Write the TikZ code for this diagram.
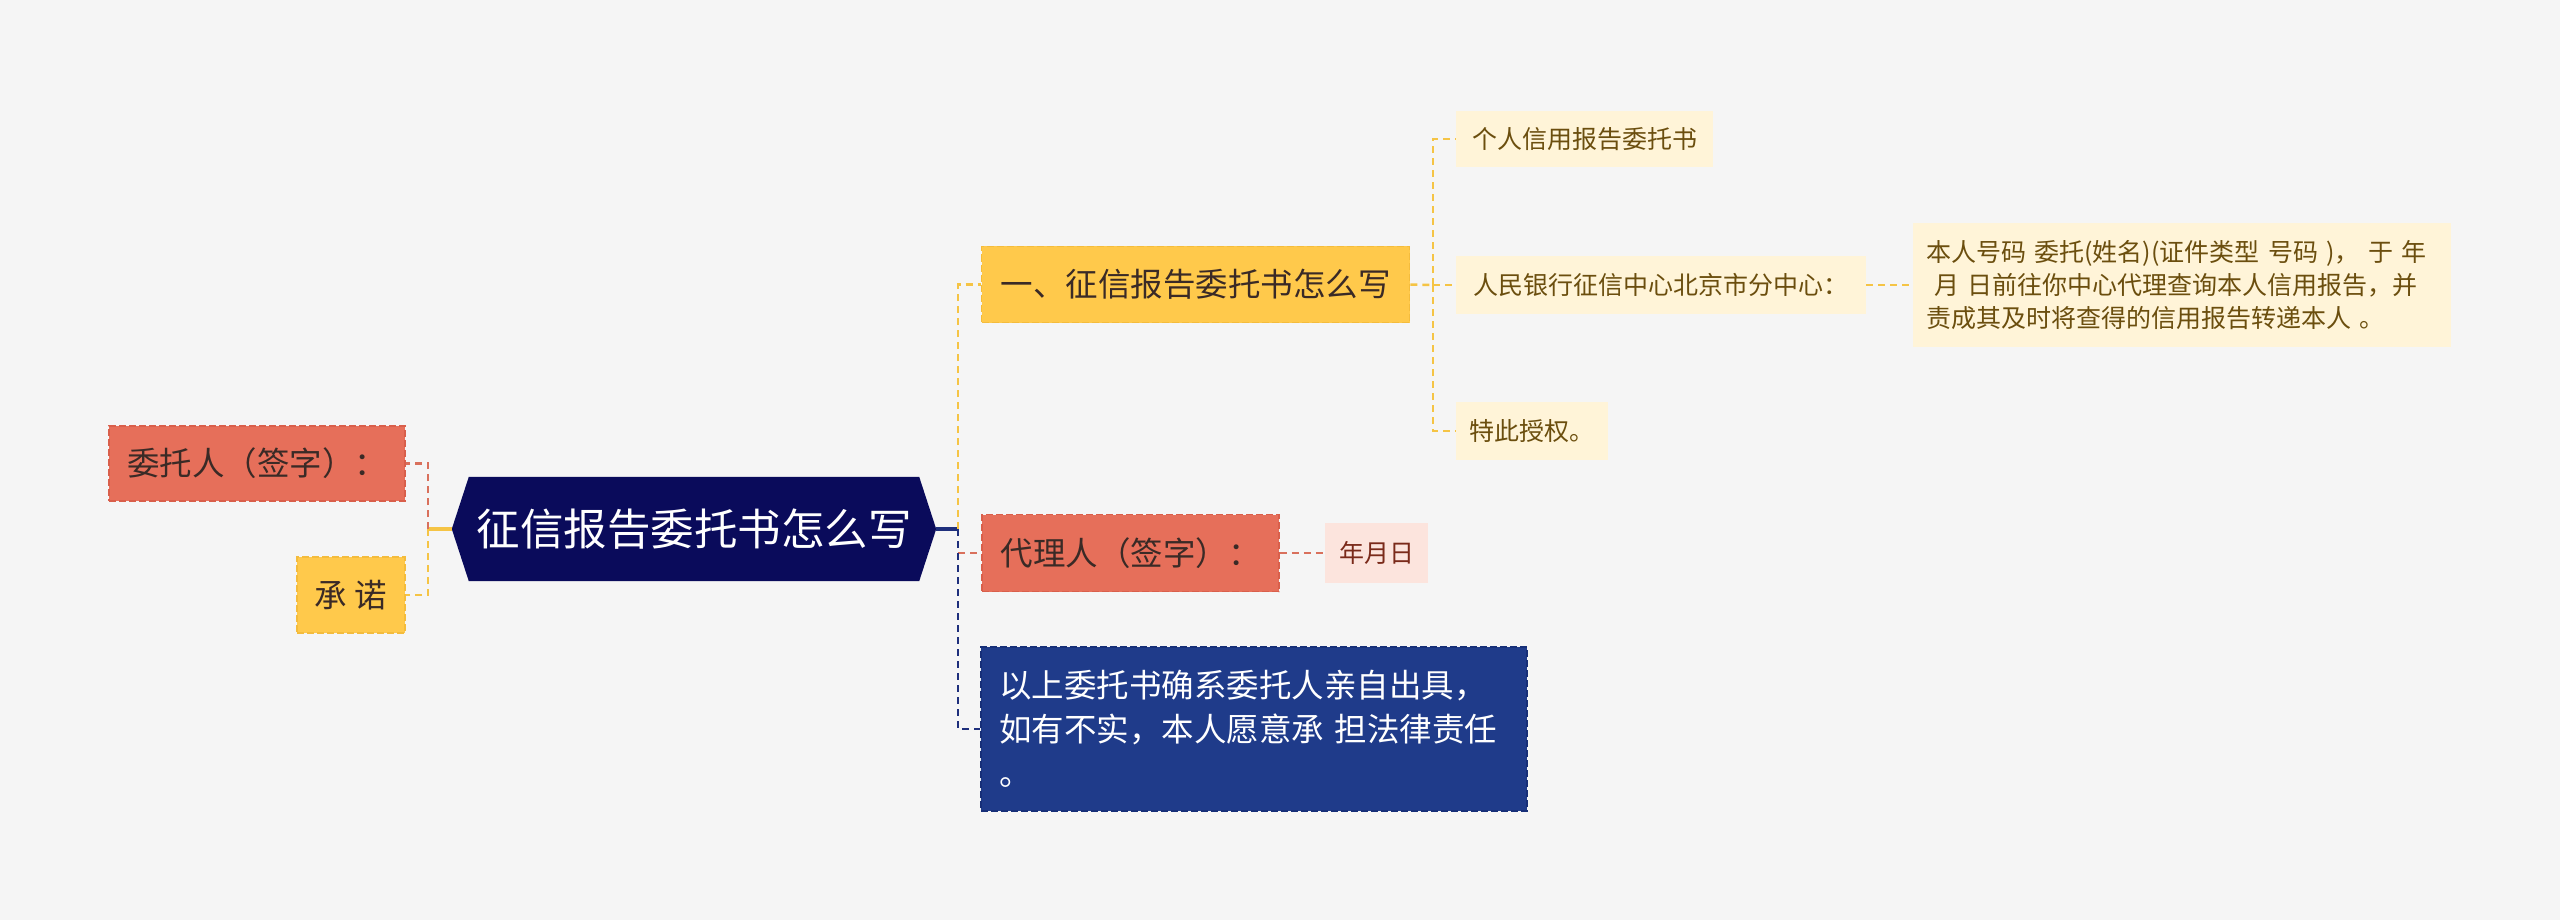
\documentclass[tikz,border=0pt]{standalone}
\usepackage{fontspec}
\setmainfont{Noto Sans CJK SC}
\usetikzlibrary{calc,backgrounds}
\definecolor{bgc}{HTML}{F5F5F5}
\definecolor{rootc}{HTML}{0A0B5B}
\definecolor{coral}{HTML}{E66F5A}
\definecolor{coralb}{HTML}{D95F4B}
\definecolor{ylwf}{HTML}{FFC94B}
\definecolor{ylwb}{HTML}{F4BC3C}
\definecolor{bluef}{HTML}{1F3B8A}
\definecolor{blueb}{HTML}{172F78}
\definecolor{creamf}{HTML}{FFF4D8}
\definecolor{creamt}{HTML}{6B4E0E}
\definecolor{pinkf}{HTML}{FCE4DD}
\definecolor{pinkt}{HTML}{7A2A1A}
\definecolor{darkt}{HTML}{3A2A26}
\definecolor{lnyel}{HTML}{F5C445}
\definecolor{lnred}{HTML}{D9705C}
\definecolor{lnnavy}{HTML}{1E2F7C}
\begin{document}
\begin{tikzpicture}[x=1pt,y=-1pt,
  basebox/.style={inner sep=0pt, anchor=center, align=center},
  corbox/.style={basebox, fill=coral, draw=coralb, line width=1.8pt, dash pattern=on 7pt off 3pt, text=darkt, font=\fontsize{32.5pt}{40pt}\selectfont},
  yelbox/.style={basebox, fill=ylwf, draw=ylwb, line width=1.8pt, dash pattern=on 7pt off 3pt, text=darkt, font=\fontsize{32.5pt}{40pt}\selectfont},
  bluebox/.style={basebox, fill=bluef, draw=blueb, line width=1.8pt, dash pattern=on 7pt off 3pt, text=white, font=\fontsize{32.5pt}{44pt}\selectfont},
  crbox/.style={basebox, fill=creamf, text=creamt, font=\fontsize{25pt}{32.6pt}\selectfont},
  pkbox/.style={basebox, fill=pinkf, text=pinkt, font=\fontsize{25pt}{32pt}\selectfont},
  rootbox/.style={basebox, text=white, minimum width=450pt, minimum height=104pt, font=\fontsize{43.5pt}{50pt}\selectfont},
  conyel/.style={draw=lnyel, line width=2.5pt, dash pattern=on 7pt off 5pt},
  conred/.style={draw=lnred, line width=2.5pt, dash pattern=on 7pt off 5pt},
  connavy/.style={draw=lnnavy, line width=2.5pt, dash pattern=on 7pt off 5pt},
  stubyel/.style={draw=lnyel, line width=3.5pt},
  stubnavy/.style={draw=lnnavy, line width=3.5pt}]
\begin{scope}[on background layer]
\fill[bgc] (0,0) rectangle (2560,920);
\end{scope}
\useasboundingbox (0,0) rectangle (2560,920);

% root
\node[rootbox] (root) at (694,529) {征信报告委托书怎么写};
\coordinate (rootL) at ($(root.west)+(-17,0)$);
\coordinate (rootR) at ($(root.east)+(17,0)$);
\begin{scope}[on background layer]
\fill[rootc] (rootL) -- (root.north west) -- (root.north east) -- (rootR) -- (root.south east) -- (root.south west) -- cycle;
\end{scope}

% left nodes
\node[corbox, minimum width=296pt, minimum height=75pt] (wt) at (257,463.5) {委托人（签字）：};
\node[yelbox, minimum width=108pt, minimum height=76pt] (cn) at (351,595) {承\ 诺};

% right level 1
\node[yelbox, minimum width=428pt, minimum height=76pt] (s1) at (1195.5,284.5) {一、征信报告委托书怎么写};
\node[corbox, minimum width=297pt, minimum height=77pt] (s2) at (1130.5,553) {代理人（签字）：};
\node[pkbox, minimum width=103pt, minimum height=60pt] (s2a) at (1376.5,553) {年月日};
\node[bluebox, minimum width=546pt, minimum height=164pt, text width=510pt, align=left] (s3) at (1254,729)
  {\mbox{以上委托书确系委托人亲自出具，}\\\mbox{如有不实，本人愿意承 担法律责任}\\\mbox{。}};

% right level 2
\node[crbox, minimum width=257pt, minimum height=56pt] (c1) at (1584.5,139) {个人信用报告委托书};
\node[crbox, minimum width=410pt, minimum height=58pt] (c2) at (1661,285) {人民银行征信中心北京市分中心：};
\node[crbox, minimum width=152pt, minimum height=58pt] (c3) at (1532,431) {特此授权。};
\node[crbox, minimum width=538pt, minimum height=123pt, text width=512pt, align=left] (c2a) at (2182,285)
  {\mbox{本人号码 委托(姓名)(证件类型 号码 )， 于 年}\\\mbox{\hspace*{8pt}月 日前往你中心代理查询本人信用报告，并}\\\mbox{责成其及时将查得的信用报告转递本人 。}};

% junctions
\coordinate (jL) at (428,529);
\coordinate (jR) at (958,529);
\coordinate (jS) at (1433,285);

% left connectors
\draw[stubyel] (rootL) -- (jL);
\draw[conred] (jL) -- (jL |- wt.east) -- (wt.east);
\draw[conyel] (jL) -- (jL |- cn.east) -- (cn.east);

% right connectors
\draw[stubnavy] (rootR) -- (jR);
\draw[conyel] (jR) -- (jR |- s1.west) -- (s1.west);
\draw[conred] (jR |- s2.west) -- (s2.west);
\draw[connavy] (jR) -- (jR |- s3.west) -- (s3.west);
\draw[conred] (s2.east) -- (s2a.west);

% level 2 connectors
\draw[conyel] (s1.east) -- (jS);
\draw[conyel] (jS) -- (jS |- c1.west) -- (c1.west);
\draw[conyel] (jS) -- (c2.west);
\draw[conyel] (jS) -- (jS |- c3.west) -- (c3.west);
\draw[conyel] (c2.east) -- (c2a.west);
\end{tikzpicture}
\end{document}
